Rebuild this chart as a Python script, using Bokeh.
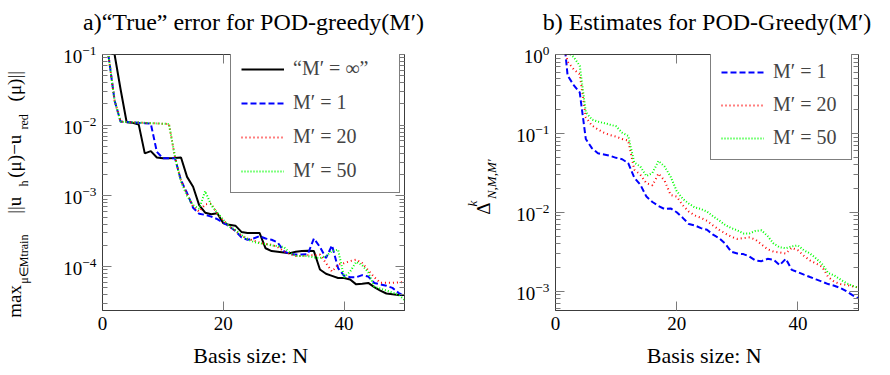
from bokeh.plotting import figure
from bokeh.models import (LinearAxis, LogAxis, FixedTicker, LogTicker, Range1d,
                          Legend, LegendItem, CustomJSTickFormatter)
from bokeh.layouts import row
from bokeh.embed import file_html
from bokeh.resources import INLINE

# ---------------- data ----------------
N = list(range(1, 51))
x_ticks = [0, 20, 40]

# panel a) "true" error
err_inf = [0.32, 0.1, 0.032, 0.011, 0.0108, 0.0102, 0.0040, 0.0043, 0.0035, 0.0034,
           0.0034, 0.00343, 0.0035, 0.00186, 0.00135, 0.00074, 0.00058, 0.00055, 0.00057, 0.00041,
           0.00039, 0.00038, 0.00031, 0.00030, 0.00030, 0.00030, 0.000182, 0.000166, 0.000162, 0.000158,
           0.000155, 0.000162, 0.000166, 0.000168, 0.000166, 9.12e-5, 7.94e-5, 7.41e-5, 6.92e-5, 6.92e-5,
           6.6e-5, 5.62e-5, 5.75e-5, 5.89e-5, 5.13e-5, 4.57e-5, 4.17e-5, 4.07e-5, 3.98e-5, 3.98e-5]
err_m1 = [0.095, 0.0224, 0.0112, 0.0111, 0.011, 0.0108, 0.0107, 0.0105, 0.0042, 0.0034,
          0.0034, 0.0034, 0.00166, 0.0011, 0.00068, 0.00056, 0.00054, 0.00051, 0.00047, 0.00042,
          0.00037, 0.00032, 0.00026, 0.00024, 0.00025, 0.00027, 0.00025, 0.00024, 0.00022, 0.000166,
          0.000151, 0.000148, 0.000148, 0.000151, 0.00025, 0.00019, 0.000132, 0.0002, 9.55e-5, 7.41e-5,
          7.08e-5, 7.08e-5, 7.59e-5, 7.24e-5, 5.89e-5, 5.62e-5, 5.37e-5, 5.01e-5, 4.27e-5, 3.8e-5]
err_m20 = [0.095, 0.0224, 0.0112, 0.0111, 0.011, 0.0109, 0.0108, 0.0107, 0.0106, 0.0105,
           0.0104, 0.00355, 0.00166, 0.00105, 0.00071, 0.0006, 0.00076, 0.00078, 0.00056, 0.00045,
           0.00037, 0.00032, 0.000275, 0.00025, 0.000234, 0.000219, 0.000209, 0.000204, 0.00019, 0.000166,
           0.000151, 0.000141, 0.000141, 0.000145, 0.000145, 0.000148, 0.000112, 8.5e-5, 0.000107, 0.000112,
           0.00012, 0.000126, 0.000112, 8.9e-5, 7.1e-5, 5.9e-5, 5.9e-5, 5.9e-5, 6.0e-5, 6.0e-5]
err_m50 = [0.095, 0.0224, 0.0112, 0.0111, 0.011, 0.0109, 0.0108, 0.0107, 0.0106, 0.0105,
           0.0104, 0.00355, 0.00158, 0.001, 0.00074, 0.00066, 0.00117, 0.00074, 0.00058, 0.00046,
           0.00037, 0.00033, 0.00028, 0.000245, 0.000224, 0.000214, 0.000209, 0.0002, 0.000195, 0.00019,
           0.000158, 0.000141, 0.000141, 0.000141, 0.000135, 0.000132, 0.000141, 0.000166, 0.000174, 7.1e-5,
           8.5e-5, 0.000117, 0.000105, 8.3e-5, 5.2e-5, 4.9e-5, 4.6e-5, 4.3e-5, 4.0e-5, 3.4e-5]

# panel b) estimates
est_m1 = [3.2, 0.54, 0.41, 0.33, 0.085, 0.065, 0.056, 0.054, 0.052, 0.049,
          0.047, 0.042, 0.0275, 0.0224, 0.0158, 0.0135, 0.012, 0.011, 0.0112, 0.010,
          0.0085, 0.0071, 0.0068, 0.0063, 0.006, 0.0052, 0.0047, 0.004, 0.00316, 0.003,
          0.00295, 0.00275, 0.00245, 0.0024, 0.00257, 0.00251, 0.00214, 0.00257, 0.00186, 0.00174,
          0.00162, 0.00151, 0.00141, 0.00132, 0.00123, 0.00117, 0.0011, 0.001, 0.00089, 0.00081]
est_m20 = [2.0, 0.81, 0.65, 0.56, 0.16, 0.126, 0.112, 0.102, 0.095, 0.091,
           0.085, 0.081, 0.0347, 0.030, 0.0234, 0.0219, 0.031, 0.0251, 0.0166, 0.0158,
           0.0123, 0.0102, 0.0091, 0.0085, 0.0078, 0.0068, 0.006, 0.0054, 0.0049, 0.0046,
           0.0047, 0.0048, 0.0045, 0.0039, 0.0034, 0.00316, 0.0031, 0.003, 0.00355, 0.0033,
           0.0028, 0.00245, 0.00224, 0.00204, 0.00151, 0.00132, 0.00123, 0.0012, 0.00115, 0.00112]
est_m50 = [2.5, 1.07, 0.93, 0.72, 0.186, 0.15, 0.141, 0.135, 0.129, 0.123,
           0.102, 0.093, 0.0427, 0.038, 0.0288, 0.0316, 0.0447, 0.038, 0.0282, 0.0186,
           0.0148, 0.0129, 0.0115, 0.011, 0.0102, 0.0089, 0.0079, 0.0069, 0.0063, 0.0059,
           0.0054, 0.0054, 0.0058, 0.0059, 0.005, 0.004, 0.0036, 0.0035, 0.0037, 0.0038,
           0.0033, 0.0030, 0.0026, 0.0022, 0.0017, 0.00158, 0.00141, 0.00126, 0.00117, 0.0011]

SERIF = "Liberation Serif"
TICK_C = "#7a7a7a"
FRAME_C = "#3c3c3c"
SP = "\u2005"      # thin math spacing around "="
NB = "\u00a0"      # non-collapsing space used to place sub/superscript pieces


def gap(n):
    return NB * n


def blank_formatter():
    return CustomJSTickFormatter(code="return ''")


def make_fig(width, bl, br, ymin, ymax, title):
    p = figure(width=width, height=375, x_range=Range1d(0, 50), y_range=Range1d(ymin, ymax),
               y_axis_type="log", output_backend="svg", toolbar_location=None,
               min_border_left=bl, min_border_right=br, min_border_top=54, min_border_bottom=65)
    p.grid.visible = False
    p.outline_line_color = FRAME_C
    p.outline_line_width = 1
    p.background_fill_color = "white"
    p.border_fill_color = "white"
    bottom = p.below[0]
    left = p.left[0]
    bottom.ticker = FixedTicker(ticks=x_ticks)
    left.ticker = LogTicker(num_minor_ticks=10)
    top = LinearAxis(ticker=FixedTicker(ticks=x_ticks), formatter=blank_formatter())
    right = LogAxis(ticker=LogTicker(num_minor_ticks=10), formatter=blank_formatter())
    p.add_layout(top, "above")
    p.add_layout(right, "right")
    for ax in [bottom, left, top, right]:
        ax.major_tick_in = 9
        ax.major_tick_out = 0
        ax.minor_tick_in = 5
        ax.minor_tick_out = 0
        ax.major_tick_line_color = TICK_C
        ax.minor_tick_line_color = TICK_C
        ax.axis_line_color = FRAME_C
        ax.major_label_text_font = SERIF
        ax.major_label_text_font_size = "19px"
        ax.major_label_text_color = "black"
        ax.major_label_standoff = 6
        ax.axis_label_text_color = "black"
    bottom.minor_tick_line_color = None
    top.minor_tick_line_color = None
    top.major_label_text_font_size = "1px"
    top.major_label_standoff = 0
    right.major_label_text_font_size = "1px"
    right.major_label_standoff = 0
    # x axis label
    bottom.axis_label = "Basis size:  N"
    bottom.axis_label_text_font = SERIF
    bottom.axis_label_text_font_size = "22px"
    bottom.axis_label_text_font_style = "normal"
    bottom.axis_label_standoff = 10
    # panel title, set as the label of the mirrored top axis
    top.axis_label = title
    top.axis_label_text_font = SERIF
    top.axis_label_text_font_size = "24px"
    top.axis_label_text_font_style = "normal"
    top.axis_label_standoff = 20
    return p


def label_axis(p, text, size, standoff, style="normal"):
    ax = LogAxis(ticker=LogTicker(num_minor_ticks=10), formatter=blank_formatter())
    ax.major_tick_line_color = None
    ax.minor_tick_line_color = None
    ax.major_tick_in = 0
    ax.major_tick_out = 0
    ax.minor_tick_in = 0
    ax.minor_tick_out = 0
    ax.axis_line_color = None
    ax.major_label_text_font_size = "1px"
    ax.major_label_standoff = 0
    ax.axis_label = text
    ax.axis_label_text_font = SERIF
    ax.axis_label_text_font_size = size
    ax.axis_label_text_font_style = style
    ax.axis_label_text_color = "black"
    ax.axis_label_standoff = standoff
    p.add_layout(ax, "left")


def set_primary_label(p, text, size, standoff, style="normal"):
    ax = p.left[0]
    ax.axis_label = text
    ax.axis_label_text_font = SERIF
    ax.axis_label_text_font_size = size
    ax.axis_label_text_font_style = style
    ax.axis_label_text_color = "black"
    ax.axis_label_standoff = standoff


# ---------- panel a ----------
pa = make_fig(450, 102, 46, 10 ** -4.62, 0.1, "a)\u201cTrue\u201d error for POD-greedy(M\u2032)")

ra0 = pa.line(N, err_inf, line_color="black", line_width=2)
ra1 = pa.line(N, err_m1, line_color="#0000ff", line_width=2, line_dash="6 3")
ra2 = pa.line(N, err_m20, line_color="#ff0000", line_width=2, line_dash="1 3")
ra3 = pa.line(N, err_m50, line_color="#00ff00", line_width=2, line_dash="1 2")

leg_a = Legend(items=[LegendItem(label="\u201cM\u2032" + SP + "=" + SP + "\u221e\u201d", renderers=[ra0]),
                      LegendItem(label="M\u2032" + SP + "=" + SP + "1", renderers=[ra1]),
                      LegendItem(label="M\u2032" + SP + "=" + SP + "20", renderers=[ra2]),
                      LegendItem(label="M\u2032" + SP + "=" + SP + "50", renderers=[ra3])],
               location=(128, 117))

# y label of panel a: subscripts (inner column) + main line (outer column)
set_primary_label(pa, "\u03bc\u2208Mtrain" + gap(16) + "h" + gap(17) + "red" + gap(11), "12px", 29)
label_axis(pa, "max" + gap(15) + "||u" + gap(4) + "(\u03bc)\u2212u" + gap(7) + "(\u03bc)||" + gap(5),
           "19px", -10)

# ---------- panel b ----------
pb = make_fig(440, 105, 32, 10 ** -3.245, 1.0, "b) Estimates for POD-Greedy(M\u2032)")

rb1 = pb.line(N, est_m1, line_color="#0000ff", line_width=2, line_dash="6 3")
rb2 = pb.line(N, est_m20, line_color="#ff0000", line_width=2, line_dash="1 3")
rb3 = pb.line(N, est_m50, line_color="#00ff00", line_width=2, line_dash="1 2")

leg_b = Legend(items=[LegendItem(label="M\u2032" + SP + "=" + SP + "1", renderers=[rb1]),
                      LegendItem(label="M\u2032" + SP + "=" + SP + "20", renderers=[rb2]),
                      LegendItem(label="M\u2032" + SP + "=" + SP + "50", renderers=[rb3])],
               location=(155, 150))

# y label of panel b: subscript (inner), Delta (middle), superscript k (outer)
set_primary_label(pb, gap(2) + "N,M,M\u2032", "13px", 14, "italic")
label_axis(pb, "\u0394" + gap(11), "19px", -12)
label_axis(pb, "k" + gap(13), "13px", -10, "italic")

for leg, lw, sp in [(leg_a, 96, 11), (leg_b, 68, 10)]:
    leg.padding = 10
    leg.spacing = sp
    leg.margin = 0
    leg.glyph_width = 43
    leg.glyph_height = 20
    leg.label_height = 20
    leg.label_width = lw
    leg.label_standoff = 9
    leg.border_line_color = "black"
    leg.border_line_width = 1
    leg.background_fill_color = "white"
    leg.background_fill_alpha = 1
    leg.label_text_font = SERIF
    leg.label_text_font_size = "20px"
    leg.label_text_baseline = "middle"
pa.add_layout(leg_a)
pb.add_layout(leg_b)

layout = row(pa, pb)
open("out.html", "w").write(file_html(layout, INLINE))
